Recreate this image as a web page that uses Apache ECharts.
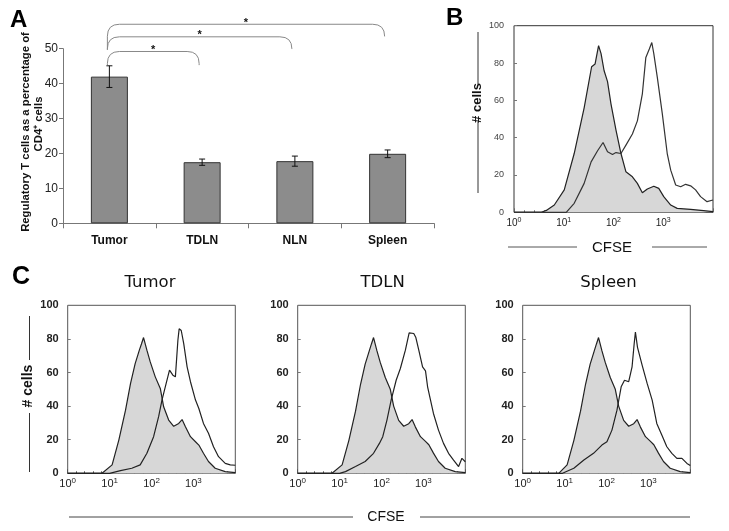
<!DOCTYPE html>
<html><head><meta charset="utf-8">
<script src="https://cdn.jsdelivr.net/npm/echarts@6/dist/echarts.min.js"></script>
<style>html,body{margin:0;padding:0;background:#fff}#c{width:729px;height:531px}</style>
</head><body><div id="c"></div>
<script>
// ---------- Panel A data ----------
const catsA = ['Tumor', 'TDLN', 'NLN', 'Spleen'];
const valsA = [42.0, 17.5, 17.8, 19.9];
const errA = [3.1, 0.9, 1.45, 1.1];
// [fromCat, toCat, topValue, leftEndValue, rightEndValue]
const bracketsA = [[0, 1, 49.2, 45.3, 45.3], [0, 2, 53.4, 49.7, 49.9], [0, 3, 57.0, 49.7, 53.5]];
const yTicksA = [0, 10, 20, 30, 40, 50];

// ---------- Histogram data: [log10(CFSE), % max cells] ----------
const bFill = [[0,0],[0.55,0],[0.65,1],[0.81,3.9],[1.01,12],[1.21,31.5],[1.41,56],[1.56,78],[1.63,79.5],[1.70,89.3],[1.75,85],[1.81,76],[1.88,70],[1.95,58],[2.05,44],[2.15,31.5],[2.25,21.7],[2.38,19],[2.48,15.5],[2.58,10.5],[2.68,12.5],[2.81,14],[2.91,12.8],[3.01,8.4],[3.15,3.9],[3.28,2.1],[3.55,1.6],[3.81,0.9],[4.0,0.4]];
const bOpen = [[0,0],[1.05,0],[1.21,4.8],[1.41,15.5],[1.55,27],[1.68,33],[1.79,37.4],[1.88,32.4],[1.98,31],[2.05,32],[2.15,31.5],[2.25,36],[2.38,42],[2.48,49],[2.58,63.5],[2.65,83],[2.72,87.5],[2.77,91],[2.81,85],[2.88,72.4],[2.98,53],[3.08,31.5],[3.15,22.6],[3.25,14.6],[3.35,13.7],[3.45,15],[3.55,14.2],[3.65,12],[3.75,8.4],[3.88,5.7],[4.0,6.6]];

const tumorFill = [[0,0],[0.82,0],[1.06,5],[1.22,19.8],[1.38,37.6],[1.50,53.5],[1.61,65.3],[1.71,73.3],[1.76,77],[1.81,80.8],[1.89,73.3],[1.97,66.3],[2.09,57.4],[2.21,50.5],[2.29,39.6],[2.41,31.7],[2.53,28],[2.65,29.7],[2.73,32],[2.81,27.7],[2.93,21.8],[3.05,18.8],[3.13,16.8],[3.24,11.9],[3.36,7],[3.52,3],[3.76,1],[4.0,0.4]];
const tumorOpen = [[0,0],[1.0,0],[1.26,1.6],[1.53,3],[1.73,5],[1.89,11.9],[2.05,21.8],[2.17,33.7],[2.25,43.6],[2.35,53.5],[2.43,61.4],[2.51,58.4],[2.57,57.4],[2.63,79.2],[2.66,86],[2.71,85],[2.77,77],[2.85,63.4],[2.93,54.5],[3.05,43.6],[3.13,38.6],[3.24,29.7],[3.36,23.8],[3.48,15.8],[3.60,9.9],[3.76,5.9],[3.88,5],[4.0,4.8]];

const tdlnFill = [[0,0],[0.82,0],[1.06,5],[1.22,19.5],[1.38,37],[1.50,53],[1.61,65],[1.71,73],[1.76,77],[1.81,80.8],[1.89,73],[1.97,66],[2.09,57],[2.21,50],[2.29,40],[2.41,31.5],[2.53,28],[2.65,29.5],[2.73,32],[2.81,27.5],[2.93,21.8],[3.05,19],[3.13,17],[3.24,12],[3.36,7],[3.52,3],[3.76,1],[4.0,0.4]];
const tdlnOpen = [[0,0],[1.0,0],[1.14,1],[1.38,4],[1.61,7],[1.81,11.9],[1.95,17.8],[2.03,21.8],[2.13,31.7],[2.23,43.6],[2.35,55.4],[2.45,62.4],[2.57,73.3],[2.66,83.6],[2.77,83.2],[2.82,80.8],[2.89,73.3],[2.98,63.4],[3.05,61],[3.10,51.5],[3.17,43.6],[3.24,35.6],[3.36,25.7],[3.48,17.8],[3.60,11.9],[3.72,7.9],[3.84,4],[3.92,8.9],[4.0,6.9]];

const spleenFill = [[0,0],[0.86,0],[1.06,5],[1.22,19.5],[1.38,37],[1.50,53],[1.61,65],[1.71,73],[1.76,77],[1.81,80.8],[1.89,73],[1.97,66],[2.09,57],[2.21,50],[2.29,40],[2.41,31.5],[2.53,28],[2.65,29.5],[2.73,32],[2.81,27.5],[2.93,21.8],[3.05,19],[3.13,17],[3.24,12],[3.36,7],[3.52,3],[3.76,1],[4.0,0.4]];
const spleenOpen = [[0,0],[0.95,0],[1.22,3],[1.46,7.9],[1.69,11.9],[1.89,16.8],[2.01,18.8],[2.13,25.7],[2.25,37.6],[2.35,51.5],[2.43,55.4],[2.53,54.5],[2.61,63.4],[2.66,77],[2.69,84],[2.74,75],[2.85,64.4],[2.97,53.5],[3.09,43.6],[3.20,29.7],[3.32,22.8],[3.44,15.8],[3.56,11.9],[3.68,8.9],[3.80,8.9],[3.92,5.9],[4.0,4.6]];

const histTitles = ['Tumor', 'TDLN', 'Spleen'];
const decadeLabels = ['0', '1', '2', '3']; // exponents of 10 shown

const FONT = 'Liberation Sans, Arial, sans-serif';
const TFONT = '"DejaVu Sans", sans-serif';
const chart = echarts.init(document.getElementById('c'), null, {renderer: 'canvas'});

function decadeFormatter(v) {
  const s = String(Math.round(v));
  if (Math.abs(v - Math.round(v)) > 1e-6 || decadeLabels.indexOf(s) < 0) return '';
  return '{b|10}{s|' + s + '}';
}
function histX(gi, base, sup, color, margin) {
  return {
    type: 'value', gridIndex: gi, min: 0, max: 4, interval: 1,
    axisLine: {show: false}, splitLine: {show: false},
    axisTick: {show: true, inside: true, length: 4, lineStyle: {color: color}},
    minorTick: {show: true, splitNumber: 5, length: 2, lineStyle: {color: color}},
    axisLabel: {
      margin: margin, formatter: decadeFormatter,
      rich: {
        b: {fontFamily: FONT, fontSize: base, color: '#222'},
        s: {fontFamily: FONT, fontSize: sup, color: '#222', padding: [0, 0, base * 0.7, 0]}
      }
    }
  };
}
function histY(gi, opts) {
  return {
    type: 'value', gridIndex: gi, min: 0, max: 100, interval: 20,
    axisLine: {show: false}, splitLine: {show: false},
    axisTick: {show: true, inside: true, length: 3, lineStyle: {color: '#777'}},
    axisLabel: Object.assign({fontFamily: FONT, color: '#222'}, opts)
  };
}
function histSeries(gi, fill, open, openColor) {
  return [
    {type: 'line', xAxisIndex: gi, yAxisIndex: gi, data: fill, showSymbol: false, symbol: 'none',
     lineStyle: {color: '#222', width: 1.2}, areaStyle: {color: '#d7d7d7', opacity: 1}, z: 2, silent: true},
    {type: 'line', xAxisIndex: gi, yAxisIndex: gi, data: open, showSymbol: false, symbol: 'none',
     lineStyle: {color: openColor, width: 1.2}, z: 3, silent: true}
  ];
}

const gridsC = [67.7, 297.7, 522.7];

const option = {
  animation: false,
  grid: [
    {left: 63, top: 48.7, width: 371, height: 174.6},
    {left: 514, top: 25.7, width: 199, height: 186.6, show: true, borderColor: '#333', borderWidth: 1},
    {left: gridsC[0], top: 305.3, width: 167.6, height: 168, show: true, borderColor: '#555', borderWidth: 1},
    {left: gridsC[1], top: 305.3, width: 167.6, height: 168, show: true, borderColor: '#555', borderWidth: 1},
    {left: gridsC[2], top: 305.3, width: 167.6, height: 168, show: true, borderColor: '#555', borderWidth: 1}
  ],
  xAxis: [
    {type: 'category', gridIndex: 0, data: catsA,
     axisLine: {lineStyle: {color: '#777'}},
     axisTick: {show: true, length: 5, lineStyle: {color: '#777'}},
     axisLabel: {fontFamily: FONT, fontWeight: 'bold', fontSize: 12, color: '#111', margin: 11}},
    histX(1, 10, 7, '#666', 4),
    histX(2, 11, 8, '#555', 3),
    histX(3, 11, 8, '#555', 3),
    histX(4, 11, 8, '#555', 3)
  ],
  yAxis: [
    {type: 'value', gridIndex: 0, min: 0, max: 50, interval: 10,
     axisLine: {show: true, lineStyle: {color: '#777'}},
     axisTick: {show: true, length: 4, lineStyle: {color: '#777'}},
     splitLine: {show: false},
     axisLabel: {fontFamily: FONT, fontSize: 12, color: '#222', margin: 5,
                 formatter: v => (yTicksA.indexOf(v) >= 0 ? String(v) : '')}},
    histY(1, {fontSize: 9, color: '#444', margin: 10}),
    histY(2, {fontSize: 11, fontWeight: 'bold', margin: 9}),
    histY(3, {fontSize: 11, fontWeight: 'bold', margin: 9}),
    histY(4, {fontSize: 11, fontWeight: 'bold', margin: 9})
  ],
  series: [
    {type: 'bar', xAxisIndex: 0, yAxisIndex: 0, data: valsA, barWidth: 37,
     itemStyle: {color: '#8c8c8c', borderColor: '#333', borderWidth: 1}, silent: true},
    {type: 'custom', xAxisIndex: 0, yAxisIndex: 0, silent: true, z: 5,
     data: catsA.map((c, i) => [i, valsA[i], errA[i]]),
     encode: {x: 0, y: 1},
     renderItem: function (params, api) {
       const i = api.value(0), v = api.value(1), e = api.value(2);
       const top = api.coord([i, v + e]), bot = api.coord([i, v - e]);
       const w = 3;
       const st = {stroke: '#111', lineWidth: 1};
       return {type: 'group', children: [
         {type: 'line', shape: {x1: top[0], y1: top[1], x2: bot[0], y2: bot[1]}, style: st},
         {type: 'line', shape: {x1: top[0] - w, y1: top[1], x2: top[0] + w, y2: top[1]}, style: st},
         {type: 'line', shape: {x1: bot[0] - w, y1: bot[1], x2: bot[0] + w, y2: bot[1]}, style: st}
       ]};
     }},
    {type: 'custom', xAxisIndex: 0, yAxisIndex: 0, silent: true, clip: false, z: 5,
     data: bracketsA,
     encode: {x: 0, y: 2},
     renderItem: function (params, api) {
       const a = api.value(0), b = api.value(1), t = api.value(2), l = api.value(3), r = api.value(4);
       const pl = api.coord([a, l]), pr = api.coord([b, r]), pt = api.coord([a, t]);
       const x1 = pl[0] - 2, x2 = pr[0] - 3, yT = pt[1], yl = pl[1], yr = pr[1];
       const R = Math.min(12, (yl - yT), (yr - yT));
       const d = 'M' + x1 + ' ' + yl + ' L' + x1 + ' ' + (yT + R) +
                 ' Q' + x1 + ' ' + yT + ' ' + (x1 + R) + ' ' + yT +
                 ' L' + (x2 - R) + ' ' + yT +
                 ' Q' + x2 + ' ' + yT + ' ' + x2 + ' ' + (yT + R) +
                 ' L' + x2 + ' ' + yr;
       return {type: 'group', children: [
         {type: 'path', shape: {pathData: d}, style: {stroke: '#888', lineWidth: 1, fill: null}},
         {type: 'text', style: {text: '*', x: (x1 + x2) / 2, y: yT + 4, textAlign: 'center', align: 'center',
           textVerticalAlign: 'bottom', verticalAlign: 'bottom', font: 'bold 11px ' + FONT, fill: '#111'}}
       ]};
     }}
  ].concat(
    histSeries(1, bFill, bOpen, '#333'),
    histSeries(2, tumorFill, tumorOpen, '#222'),
    histSeries(3, tdlnFill, tdlnOpen, '#222'),
    histSeries(4, spleenFill, spleenOpen, '#222')
  ),
  graphic: [
    // panel letters
    {type: 'text', x: 10, y: 8, style: {text: 'A', font: 'bold 24px ' + FONT, fill: '#000'}},
    {type: 'text', x: 446, y: 6, style: {text: 'B', font: 'bold 24px ' + FONT, fill: '#000'}},
    {type: 'text', x: 12, y: 265, style: {text: 'C', font: 'bold 25px ' + FONT, fill: '#000'}},
    // panel A y label
    {type: 'text', x: 25.5, y: 132, rotation: Math.PI / 2,
     style: {text: 'Regulatory T cells as a percentage of', font: 'bold 11.3px ' + FONT, fill: '#111',
             textAlign: 'center', textVerticalAlign: 'middle'}},
    {type: 'text', x: 38.5, y: 124, rotation: Math.PI / 2,
     style: {text: 'CD4\u207A cells', font: 'bold 11.3px ' + FONT, fill: '#111',
             textAlign: 'center', textVerticalAlign: 'middle'}},
    // panel B decorations
    {type: 'text', x: 477.5, y: 103, rotation: Math.PI / 2,
     style: {text: '# cells', font: 'bold 13px ' + FONT, fill: '#111', textAlign: 'center', textVerticalAlign: 'middle'}},
    {type: 'line', shape: {x1: 478, y1: 32, x2: 478, y2: 84}, style: {stroke: '#333', lineWidth: 1}},
    {type: 'line', shape: {x1: 478, y1: 122, x2: 478, y2: 193}, style: {stroke: '#333', lineWidth: 1}},
    {type: 'text', x: 612, y: 248, style: {text: 'CFSE', font: '15px ' + FONT, fill: '#111', textAlign: 'center', textVerticalAlign: 'middle'}},
    {type: 'line', shape: {x1: 508, y1: 247, x2: 577, y2: 247}, style: {stroke: '#555', lineWidth: 1}},
    {type: 'line', shape: {x1: 652, y1: 247, x2: 707, y2: 247}, style: {stroke: '#555', lineWidth: 1}},
    // panel C titles
    {type: 'text', x: 150, y: 283, style: {text: histTitles[0], font: '16.5px ' + TFONT, fill: '#111', textAlign: 'center', textVerticalAlign: 'middle'}},
    {type: 'text', x: 382.6, y: 283, style: {text: histTitles[1], font: '16.5px ' + TFONT, fill: '#111', textAlign: 'center', textVerticalAlign: 'middle'}},
    {type: 'text', x: 608.5, y: 283, style: {text: histTitles[2], font: '16.5px ' + TFONT, fill: '#111', textAlign: 'center', textVerticalAlign: 'middle'}},
    // panel C decorations
    {type: 'text', x: 28, y: 386, rotation: Math.PI / 2,
     style: {text: '# cells', font: 'bold 14px ' + FONT, fill: '#111', textAlign: 'center', textVerticalAlign: 'middle'}},
    {type: 'line', shape: {x1: 29.5, y1: 316, x2: 29.5, y2: 360}, style: {stroke: '#333', lineWidth: 1}},
    {type: 'line', shape: {x1: 29.5, y1: 413, x2: 29.5, y2: 472}, style: {stroke: '#333', lineWidth: 1}},
    {type: 'text', x: 386, y: 517, style: {text: 'CFSE', font: '14px ' + FONT, fill: '#111', textAlign: 'center', textVerticalAlign: 'middle'}},
    {type: 'line', shape: {x1: 69, y1: 517, x2: 353, y2: 517}, style: {stroke: '#444', lineWidth: 1}},
    {type: 'line', shape: {x1: 420, y1: 517, x2: 690, y2: 517}, style: {stroke: '#444', lineWidth: 1}}
  ]
};
chart.setOption(option);
</script></body></html>
